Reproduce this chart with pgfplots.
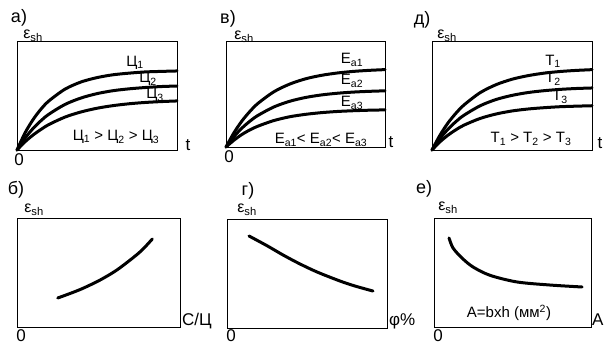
\documentclass[border=0pt]{standalone}
\usepackage{pgfplots}
\pgfplotsset{compat=1.18}
\usepackage{fontspec}
\setmainfont{Liberation Sans}
\newcommand{\es}{\fontsize{16}{18}\selectfont ε\textsubscript{sh}}
\begin{document}
\begin{tikzpicture}[x=1pt,y=1pt,font=\fontsize{15}{17}\selectfont,
  pl/.style={font=\fontsize{18}{20}\selectfont},
  al/.style={font=\fontsize{17}{19}\selectfont}]
\useasboundingbox (0,0) rectangle (605,344);
\pgfplotsset{
  panel/.style={scale only axis, anchor=south west, xmin=0, xmax=1, ymin=0, ymax=1,
    ticks=none, axis line style={line width=0.7pt}, clip=false},
  crv/.style={black, line width=3pt, smooth, no marks, line cap=round}
}
% ---------- a)
\begin{axis}[panel, at={(17pt,194pt)}, width=160pt, height=109pt]
\addplot[crv] coordinates {(0,0)(0.05,0.156)(0.1,0.278)(0.15,0.375)(0.2,0.451)(0.3,0.558)(0.4,0.624)(0.5,0.664)(0.6,0.690)(0.7,0.705)(0.8,0.716)(0.9,0.721)(1,0.725)};
\addplot[crv] coordinates {(0,0)(0.05,0.108)(0.1,0.197)(0.15,0.269)(0.2,0.329)(0.3,0.418)(0.4,0.477)(0.5,0.517)(0.6,0.544)(0.7,0.561)(0.8,0.573)(0.9,0.582)(1,0.587)};
\addplot[crv] coordinates {(0,0)(0.05,0.075)(0.1,0.137)(0.15,0.189)(0.2,0.234)(0.3,0.302)(0.4,0.349)(0.5,0.383)(0.6,0.407)(0.7,0.424)(0.8,0.436)(0.9,0.444)(1,0.45)};
\end{axis}
% ---------- v)
\begin{axis}[panel, at={(226pt,197pt)}, width=159pt, height=106pt]
\addplot[crv] coordinates {(0,0)(0.05,0.134)(0.1,0.245)(0.15,0.335)(0.2,0.410)(0.3,0.520)(0.4,0.593)(0.5,0.643)(0.6,0.676)(0.7,0.698)(0.8,0.713)(0.9,0.723)(1,0.73)};
\addplot[crv] coordinates {(0,0)(0.05,0.098)(0.1,0.178)(0.15,0.243)(0.2,0.297)(0.3,0.377)(0.4,0.431)(0.5,0.467)(0.6,0.491)(0.7,0.507)(0.8,0.518)(0.9,0.525)(1,0.53)};
\addplot[crv] coordinates {(0,0)(0.05,0.064)(0.1,0.118)(0.15,0.161)(0.2,0.196)(0.3,0.249)(0.4,0.285)(0.5,0.308)(0.6,0.324)(0.7,0.335)(0.8,0.342)(0.9,0.347)(1,0.35)};
\end{axis}
% ---------- d)
\begin{axis}[panel, at={(432pt,194pt)}, width=160pt, height=109pt]
\addplot[crv] coordinates {(0,0)(0.05,0.136)(0.1,0.248)(0.15,0.338)(0.2,0.413)(0.3,0.525)(0.4,0.599)(0.5,0.649)(0.6,0.682)(0.7,0.705)(0.8,0.720)(0.9,0.730)(1,0.737)};
\addplot[crv] coordinates {(0,0)(0.05,0.105)(0.1,0.191)(0.15,0.261)(0.2,0.319)(0.3,0.405)(0.4,0.463)(0.5,0.501)(0.6,0.527)(0.7,0.544)(0.8,0.556)(0.9,0.564)(1,0.569)};
\addplot[crv] coordinates {(0,0)(0.05,0.075)(0.1,0.136)(0.15,0.186)(0.2,0.228)(0.3,0.289)(0.4,0.330)(0.5,0.358)(0.6,0.376)(0.7,0.388)(0.8,0.397)(0.9,0.402)(1,0.406)};
\end{axis}
% ---------- b)
\begin{axis}[panel, at={(17pt,17pt)}, width=163pt, height=109pt]
\addplot[crv] coordinates {(0.25,0.266)(0.33,0.31)(0.405,0.355)(0.51,0.431)(0.61,0.52)(0.71,0.633)(0.77,0.71)(0.83,0.807)};
\end{axis}
% ---------- g)
\begin{axis}[panel, at={(227pt,16pt)}, width=160pt, height=109pt]
\addplot[crv] coordinates {(0.1375,0.844)(0.25,0.755)(0.35,0.67)(0.45,0.592)(0.5625,0.514)(0.706,0.431)(0.8,0.385)(0.9125,0.339)};
\end{axis}
% ---------- e)
\begin{axis}[panel, at={(434pt,17pt)}, width=157pt, height=109pt]
\addplot[crv] coordinates {(0.0955,0.817)(0.121,0.725)(0.178,0.633)(0.248,0.551)(0.357,0.474)(0.529,0.413)(0.739,0.385)(0.943,0.367)};
\end{axis}
% ---------- labels, top row
\node[pl] at (19,326) {а)};
\node at (33,308) {\es};
\node at (135,281) {Ц\textsubscript{1}};
\node at (148,265) {Ц\textsubscript{2}};
\node at (155,249) {Ц\textsubscript{3}};
\node at (116,207) {Ц\textsubscript{1} > Ц\textsubscript{2} > Ц\textsubscript{3}};
\node[al] at (188,199) {t};
\node[al] at (19,184) {0};

\node[pl] at (228,325) {в)};
\node at (244,307) {\es};
\node at (352,284) {E\textsubscript{a1}};
\node at (352,263) {E\textsubscript{a2}};
\node at (352,241) {E\textsubscript{a3}};
\node at (321,204) {E\textsubscript{a1}< E\textsubscript{a2}< E\textsubscript{a3}};
\node[al] at (391,202) {t};
\node[al] at (229,187) {0};

\node[pl] at (422,324) {д)};
\node at (447,308) {\es};
\node at (553,283) {T\textsubscript{1}};
\node at (553,265) {T\textsubscript{2}};
\node at (560,247) {T\textsubscript{3}};
\node at (531,205) {T\textsubscript{1} > T\textsubscript{2} > T\textsubscript{3}};
\node[al] at (600,201) {t};
% ---------- labels, bottom row
\node[pl] at (16,154) {б)};
\node at (34,134) {\es};
\node[al] at (21,8) {0};
\node[al, anchor=base west, inner sep=0pt] at (182,18) {С/Ц};

\node[pl] at (248,153) {г)};
\node at (247,134) {\es};
\node[al] at (231,8) {0};
\node[al, anchor=base west, inner sep=0pt] at (389,18) {φ\%};

\node[pl] at (424,155) {е)};
\node at (448,136) {\es};
\node[al] at (438,8) {0};
\node at (509,31) {A=bxh (мм\textsuperscript{2})};
\node[al, anchor=base west, inner sep=0pt] at (592,18) {A};
\end{tikzpicture}
\end{document}
